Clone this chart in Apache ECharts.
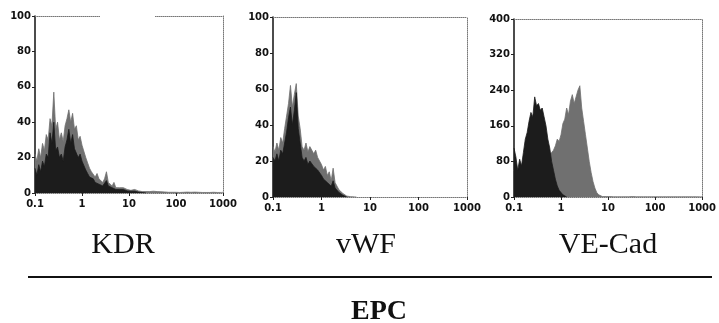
<!DOCTYPE html>
<html>
<head>
<meta charset="utf-8">
<script src="https://cdn.jsdelivr.net/npm/echarts@6/dist/echarts.min.js"></script>
<style>
  html, body { margin: 0; padding: 0; background: #fff; }
  #chart { width: 719px; height: 323px; }
</style>
</head>
<body>
<div id="chart"></div>
<script>
// bins are 0.04 decade wide, starting at 0.1
const binStep = 0.04;
const xTickLabels = ['0.1', '1', '10', '100', '1000'];
const panelNames = ['KDR', 'vWF', 'VE-Cad'];
const groupName = 'EPC';
const yMax = [100, 100, 400];
const yStep = [20, 20, 80];

const kdrGray = [22, 18, 25, 20, 28, 24, 33, 30, 42, 38, 57, 36, 40, 30, 34, 29, 38, 42, 47, 40,
  45, 36, 38, 30, 32, 27, 28, 20, 17, 14, 12, 13, 9, 11, 8, 9, 6, 8, 12, 6,
  7, 4, 6, 3, 4, 3, 2, 3, 2, 2, 1.5, 1.5, 1, 2, 1, 1.2, 1, 0.8, 1.2, 0.8,
  1, 0.8, 0.6, 1, 0.6, 0.8, 0.5, 0.7, 0.5, 0.6, 0.5, 0.4, 0.6, 0.4, 0.5, 0.4, 0.5, 0.3, 0.5, 0.4,
  0.3, 0.5, 0.3, 0.4, 0.3, 0.5, 0.3, 0.4, 0.3, 0.3, 0.4, 0.3, 0.4, 0.3, 0.3, 0.4, 0.3, 0.3, 0.4, 0.3, 0.4];
const kdrDark = [14, 10, 16, 12, 18, 15, 22, 20, 34, 28, 40, 24, 26, 20, 22, 18, 26, 30, 36, 28,
  33, 25, 26, 20, 22, 18, 19, 13, 11, 9, 8, 8, 6, 7, 5, 6, 4, 5, 7, 4,
  4, 3, 4, 2, 3, 2, 1.5, 2, 1.5, 1.2, 1, 1, 0.8, 1, 0.6, 0.5, 0.4, 0.3, 0.2, 0];

const vwfGray = [28, 25, 30, 26, 33, 30, 38, 45, 52, 62, 50, 57, 63, 45, 38, 28, 26, 30, 25, 28,
  27, 24, 26, 22, 20, 18, 15, 17, 12, 14, 9, 16, 8, 6, 4, 3, 2, 1, 0.5, 0.3,
  0.2, 0.2, 0.1, 0];
const vwfDark = [22, 20, 24, 20, 26, 24, 30, 36, 44, 50, 40, 48, 58, 38, 30, 22, 20, 22, 18, 20,
  19, 17, 18, 15, 14, 12, 10, 11, 8, 9, 6, 9, 5, 4, 2.5, 2, 1, 0.5, 0];

const vecGray = [60, 50, 40, 50, 45, 60, 75, 85, 95, 100, 95, 110, 100, 95, 90, 80, 75, 80, 85, 95,
  100, 105, 115, 130, 125, 140, 165, 175, 200, 185, 215, 230, 210, 225, 240, 250, 200, 170, 140, 110,
  80, 55, 35, 20, 10, 5, 2, 1, 1, 1, 0.5, 1, 0.5, 0.5, 1, 0.5, 0.5, 0.5, 1, 0.5,
  0.5, 0.5, 0.5, 1, 0.5, 0.5, 0.5, 0.5, 0.5, 0.5, 0.5, 0.5, 1, 0.5, 0.5, 0.5, 0.5, 0.5, 0.5, 0.5,
  0.5, 0.5, 0.5, 0.5, 0.5, 0.5, 0.5, 0.5, 0.5, 0.5, 0.5, 0.5, 0.5, 0.5, 0.5, 0.5, 0.5, 0.5, 0.5, 0.5, 0.5];
const vecDark = [110, 90, 60, 85, 70, 100, 130, 145, 170, 190, 180, 225, 205, 210, 195, 200, 180, 160, 130, 110,
  80, 60, 40, 25, 15, 10, 5, 2, 0];

const graySets = [kdrGray, vwfGray, vecGray];
const darkSets = [kdrDark, vwfDark, vecDark];

const panels = [
  { left: 35, top: 16, width: 188, height: 177 },
  { left: 273, top: 17, width: 194, height: 180 },
  { left: 514, top: 19, width: 190, height: 178 }
];

const toPoints = vals => vals.map((v, i) => [i * binStep, v]);
const tickFont = { fontFamily: 'DejaVu Sans', fontWeight: 'bold', fontSize: 10, color: '#111' };
const dotted = { color: '#777', width: 1, type: [1, 1] };

const grid = [], xAxis = [], yAxis = [], series = [];
panels.forEach((p, k) => {
  grid.push(p);
  xAxis.push({
    type: 'value', gridIndex: k, min: 0, max: 4, interval: 1,
    axisLine: { show: true, onZero: false, lineStyle: dotted },
    axisTick: { show: true, length: 3, lineStyle: { color: '#222' } },
    axisLabel: { ...tickFont, margin: 6, formatter: v => xTickLabels[v] },
    splitLine: { show: false }
  });
  xAxis.push({
    type: 'value', gridIndex: k, position: 'top', min: 0, max: 4,
    axisLine: { show: true, onZero: false, lineStyle: dotted },
    axisTick: { show: false }, axisLabel: { show: false }, splitLine: { show: false }
  });
  yAxis.push({
    type: 'value', gridIndex: k, min: 0, max: yMax[k], interval: yStep[k],
    axisLine: { show: true, onZero: false, lineStyle: { color: '#111', width: 1.5 } },
    axisTick: { show: true, length: 3, lineStyle: { color: '#222' } },
    axisLabel: { ...tickFont, margin: 4 },
    splitLine: { show: false }
  });
  yAxis.push({
    type: 'value', gridIndex: k, position: 'right', min: 0, max: yMax[k],
    axisLine: { show: true, onZero: false, lineStyle: dotted },
    axisTick: { show: false }, axisLabel: { show: false }, splitLine: { show: false }
  });
  [[graySets[k], '#707070', 2], [darkSets[k], '#1c1c1c', 3]].forEach(([vals, c, z]) => {
    series.push({
      type: 'line', xAxisIndex: 2 * k, yAxisIndex: 2 * k, z,
      data: toPoints(vals), showSymbol: false, silent: true,
      lineStyle: { color: c, width: 0.8 },
      areaStyle: { color: c, opacity: 1 }
    });
  });
});

const chart = echarts.init(document.getElementById('chart'), null, { renderer: 'canvas' });
chart.setOption({
  animation: false,
  backgroundColor: '#fff',
  grid, xAxis, yAxis, series,
  graphic: [
    // scan gap in the KDR top border
    { type: 'rect', shape: { x: 100, y: 13, width: 55, height: 6 }, style: { fill: '#fff' }, z: 100 },
    { type: 'text', x: 123, y: 245, style: { text: panelNames[0], font: '30px "Liberation Serif"', fill: '#111', align: 'center', verticalAlign: 'middle' } },
    { type: 'text', x: 366, y: 245, style: { text: panelNames[1], font: '30px "Liberation Serif"', fill: '#111', align: 'center', verticalAlign: 'middle' } },
    { type: 'text', x: 608, y: 245, style: { text: panelNames[2], font: '30px "Liberation Serif"', fill: '#111', align: 'center', verticalAlign: 'middle' } },
    { type: 'line', shape: { x1: 28, y1: 277, x2: 712, y2: 277 }, style: { stroke: '#111', lineWidth: 2 } },
    { type: 'text', x: 379, y: 312, style: { text: groupName, font: 'bold 28px "Liberation Serif"', fill: '#111', align: 'center', verticalAlign: 'middle' } }
  ]
});
</script>
</body>
</html>
